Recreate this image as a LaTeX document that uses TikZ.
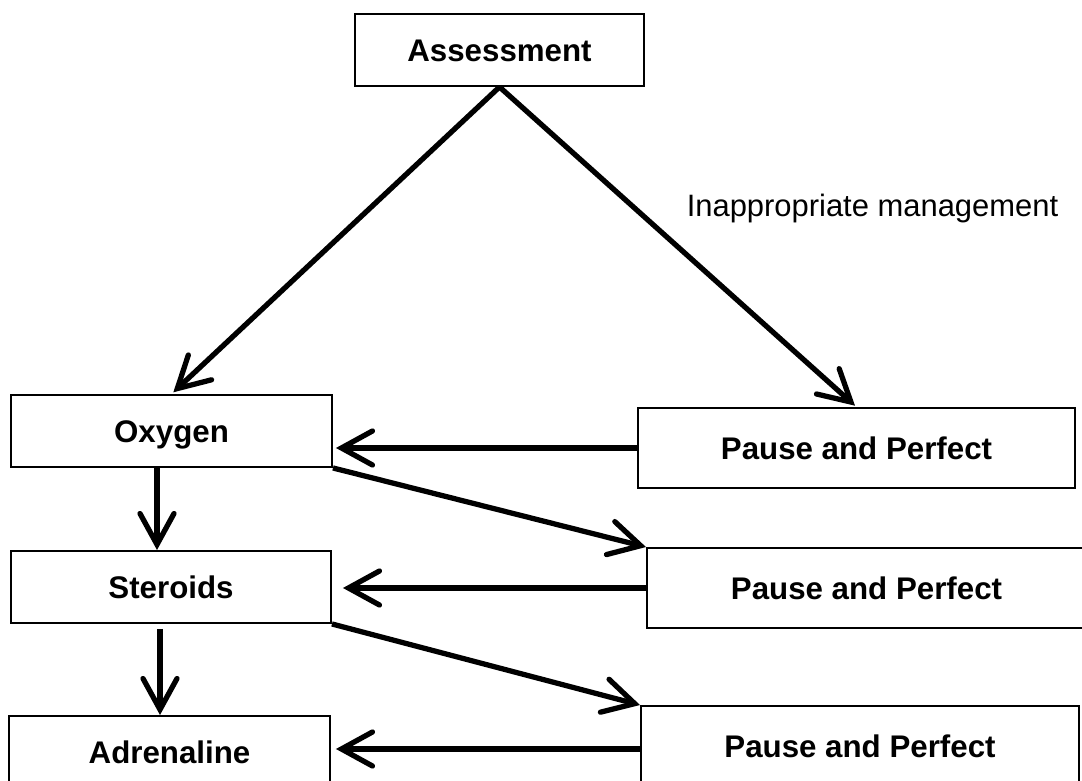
\documentclass[tikz,border=0pt]{standalone}
\usepackage{fontspec}
\setmainfont{Liberation Sans}
\usetikzlibrary{arrows.meta}

\begin{document}
\begin{tikzpicture}[x=1cm,y=1cm,
  box/.style={draw,line width=1.1pt,inner sep=0pt,text height=12.8pt,text depth=0pt,
    font=\fontsize{17.8}{21}\selectfont\bfseries},
  arr/.style={line width=3pt,-{Straight Barb[length=6.2mm,width=6.8mm,line cap=round]}},
  lbl/.style={font=\fontsize{17.6}{21}\selectfont,inner sep=0pt}]
  \useasboundingbox (0,0) rectangle (21.64,15.62);
  \clip (0,0) rectangle (21.64,15.62);
  \node[box,minimum width=5.78cm,minimum height=1.44cm] (assess) at (9.99,14.62) {Assessment};
  \node[box,minimum width=6.42cm,minimum height=1.44cm] (oxygen) at (3.43,7.00) {Oxygen};
  \node[box,minimum width=6.40cm,minimum height=1.44cm] (steroids) at (3.42,3.88) {Steroids};
  \node[box,minimum width=6.42cm,minimum height=1.44cm] (adrenal) at (3.39,0.58) {Adrenaline};
  \node[box,minimum width=8.74cm,minimum height=1.60cm] (pausea) at (17.13,6.66) {Pause and Perfect};
  \node[box,minimum width=8.78cm,minimum height=1.60cm] (pauseb) at (17.33,3.86) {Pause and Perfect};
  \node[box,minimum width=8.76cm,minimum height=1.60cm] (pausec) at (17.20,0.70) {Pause and Perfect};
  \node[lbl,anchor=base] (inapp) at (17.45,11.28) {Inappropriate management};

  \draw[arr,shorten >=0.05cm] (assess.south) -- (oxygen.north);
  \draw[arr,shorten >=0.04cm] (assess.south) -- (pausea.north);
  \draw[arr,shorten >=0.06cm] (pausea.west) -- (pausea.west -| oxygen.east);
  \draw[arr] (oxygen.south east) -- (pauseb.north west);
  \draw[arr,shorten >=0.22cm] (pauseb.west) -- (pauseb.west -| steroids.east);
  \draw[arr] ([xshift=-0.29cm]oxygen.south) -- ([xshift=-0.29cm]oxygen.south |- steroids.north);
  \draw[arr] (steroids.south east) -- (pausec.north west);
  \draw[arr,shorten >=0.1cm] ([yshift=-0.06cm]pausec.west) -- ([yshift=-0.06cm]pausec.west -| adrenal.east);
  \draw[arr,shorten <=0.1cm] ([xshift=-0.22cm]steroids.south) -- ([xshift=-0.22cm]steroids.south |- adrenal.north);
\end{tikzpicture}
\end{document}
